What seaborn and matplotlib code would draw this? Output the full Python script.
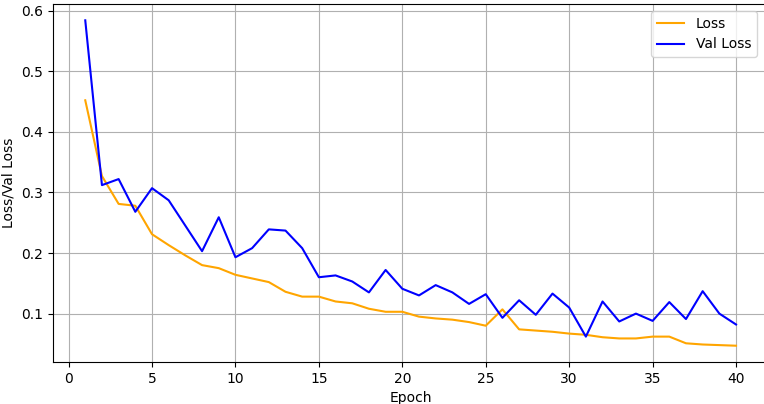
import matplotlib
matplotlib.use('Agg')
import matplotlib.pyplot as plt
import seaborn as sns
import pandas as pd
import numpy as np

# Training history
epochs = list(range(1, 41))
loss = [0.452, 0.327, 0.281, 0.278, 0.231, 0.213, 0.196, 0.180, 0.175, 0.164,
        0.158, 0.152, 0.136, 0.128, 0.128, 0.120, 0.117, 0.108, 0.103, 0.103,
        0.095, 0.092, 0.090, 0.086, 0.080, 0.107, 0.074, 0.072, 0.070, 0.067,
        0.065, 0.061, 0.059, 0.059, 0.062, 0.062, 0.051, 0.049, 0.048, 0.047]
val_loss = [0.584, 0.312, 0.322, 0.268, 0.307, 0.287, 0.245, 0.203, 0.259, 0.193,
            0.208, 0.239, 0.237, 0.208, 0.160, 0.163, 0.153, 0.135, 0.172, 0.141,
            0.130, 0.147, 0.135, 0.116, 0.132, 0.093, 0.122, 0.098, 0.133, 0.110,
            0.062, 0.120, 0.087, 0.100, 0.088, 0.119, 0.091, 0.137, 0.100, 0.082]

df = pd.DataFrame({'Epoch': epochs, 'Loss': loss, 'Val Loss': val_loss})

fig = plt.figure(figsize=(7.64, 4.04), dpi=100)
# right spine falls just outside the picture, as in the cropped original
ax = fig.add_axes([0.069, 0.104, 0.937, 0.886])

sns.lineplot(data=df, x='Epoch', y='Loss', color='orange', label='Loss', ax=ax)
sns.lineplot(data=df, x='Epoch', y='Val Loss', color='blue', label='Val Loss', ax=ax)

ax.set_xlabel('Epoch')
ax.set_ylabel('Loss/Val Loss')
ax.set_xticks(np.arange(0, 41, 5))
ax.grid(True)
ax.legend(loc='upper right', bbox_to_anchor=(0.993, 1.0))

plt.savefig('out.png', dpi=100)
